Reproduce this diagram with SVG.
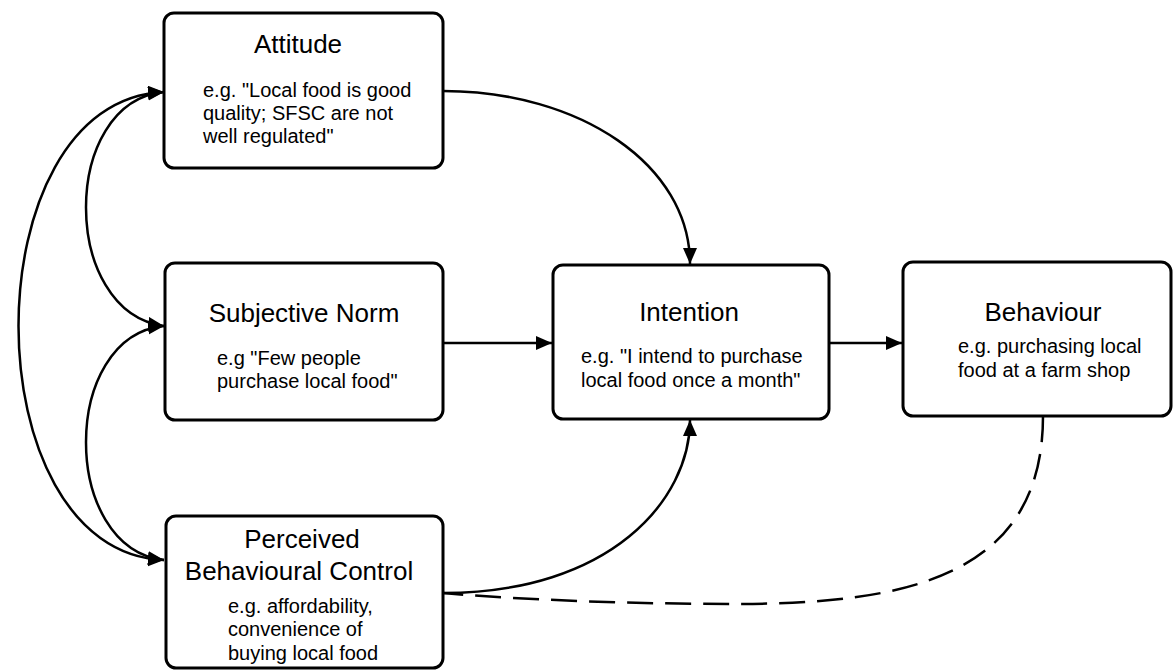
<svg xmlns="http://www.w3.org/2000/svg" width="1174" height="670" viewBox="0 0 1174 670">
  <style>
    .box { fill: #ffffff; stroke: #000000; stroke-width: 3; }
    .title { font-family: "Liberation Sans", Arial, sans-serif; font-size: 26px; fill: #000000; text-anchor: middle; }
    .body { font-family: "Liberation Sans", Arial, sans-serif; font-size: 20px; fill: #000000; }
    .conn { fill: none; stroke: #000000; stroke-width: 2.5; }
    .dash { fill: none; stroke: #000000; stroke-width: 2.5; stroke-dasharray: 26 12; }
  </style>
  <defs>
    <marker id="arrow" markerUnits="userSpaceOnUse" markerWidth="17" markerHeight="15" refX="16" refY="7" orient="auto-start-reverse" viewBox="0 0 17 15">
      <path d="M0,0 L16,7 L0,14 z" fill="#000000"/>
    </marker>
  </defs>
  <rect width="1174" height="670" fill="#ffffff"/>

  <g id="connectors">
    <!-- left correlation curves -->
    <path class="conn" d="M164,92 C-30,100 -30,552 164,560" marker-start="url(#arrow)" marker-end="url(#arrow)"/>
    <path class="conn" d="M164,92 C60,102 60,312 164,326" marker-start="url(#arrow)" marker-end="url(#arrow)"/>
    <path class="conn" d="M164,326 C60,336 60,548 164,560" marker-start="url(#arrow)" marker-end="url(#arrow)"/>
    <!-- to Intention -->
    <path class="conn" d="M443,91 C580,91 690,165 690,264" marker-end="url(#arrow)"/>
    <path class="conn" d="M443,343 L552,343" marker-end="url(#arrow)"/>
    <path class="conn" d="M443,593 C610,593 690,500 690,420" marker-end="url(#arrow)"/>
    <!-- Intention to Behaviour -->
    <path class="conn" d="M829,343 L902,343" marker-end="url(#arrow)"/>
    <!-- dashed feedback -->
    <path class="dash" d="M1043,416 C1043,580 900,604 733,604 C640,604 520,600 443,593"/>
  </g>

  <g id="attitude">
    <rect class="box" x="164" y="13" width="279" height="155" rx="10"/>
    <text class="title" x="298" y="53">Attitude</text>
    <text class="body" x="203" y="97">e.g. "Local food is good</text>
    <text class="body" x="203" y="120">quality; SFSC are not</text>
    <text class="body" x="203" y="143">well regulated"</text>
  </g>

  <g id="subjective-norm">
    <rect class="box" x="165" y="263" width="278" height="157" rx="10"/>
    <text class="title" x="304" y="322">Subjective Norm</text>
    <text class="body" x="217" y="365">e.g "Few people</text>
    <text class="body" x="217" y="388">purchase local food"</text>
  </g>

  <g id="pbc">
    <rect class="box" x="166" y="516" width="277" height="152" rx="10"/>
    <text class="title" x="302" y="548">Perceived</text>
    <text class="title" x="299" y="580">Behavioural Control</text>
    <text class="body" x="228" y="613">e.g. affordability,</text>
    <text class="body" x="228" y="636">convenience of</text>
    <text class="body" x="228" y="660">buying local food</text>
  </g>

  <g id="intention">
    <rect class="box" x="553" y="265" width="276" height="154" rx="10"/>
    <text class="title" x="689" y="321">Intention</text>
    <text class="body" x="581" y="363">e.g. "I intend to purchase</text>
    <text class="body" x="581" y="387">local food once a month"</text>
  </g>

  <g id="behaviour">
    <rect class="box" x="903" y="262" width="268" height="154" rx="10"/>
    <text class="title" x="1043" y="321">Behaviour</text>
    <text class="body" x="958" y="353">e.g. purchasing local</text>
    <text class="body" x="958" y="377">food at a farm shop</text>
  </g>
</svg>
